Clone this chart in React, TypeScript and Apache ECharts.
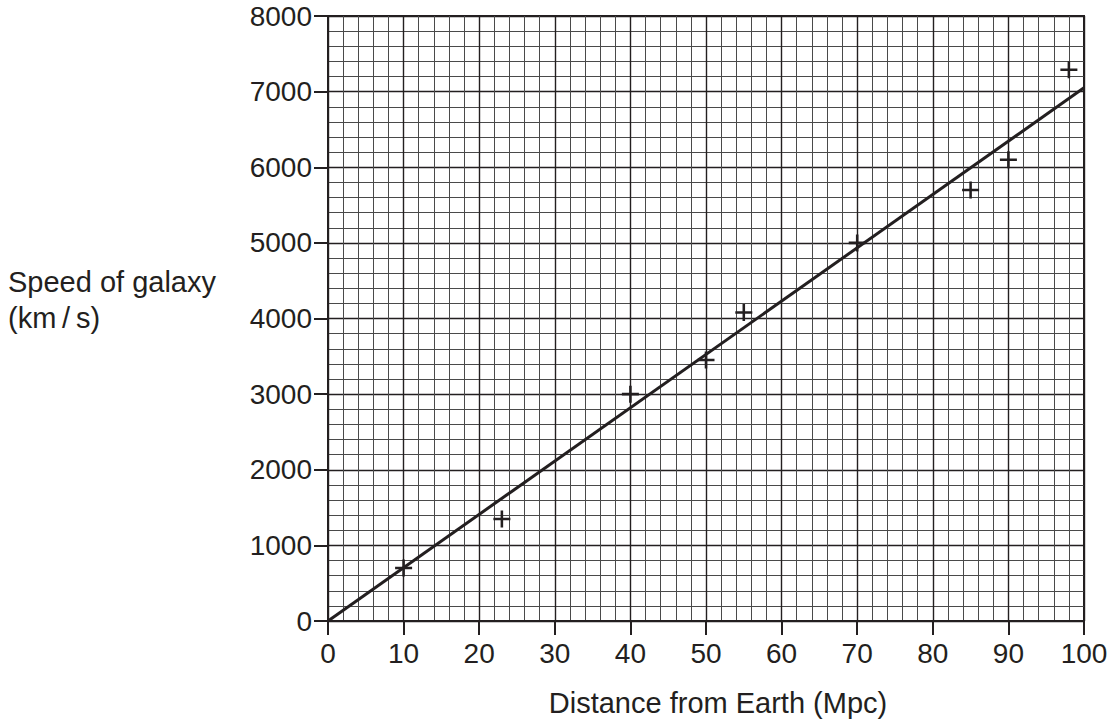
import React, { useEffect, useRef } from "react";
import * as echarts from "echarts";

const distances = [10, 23, 40, 50, 55, 70, 85, 90, 98];
const speeds = [700, 1350, 3000, 3450, 4080, 5000, 5700, 6100, 7290];
const fitLineX = [0, 100];
const fitLineY = [0, 7050];
const xTitle = "Distance from Earth (Mpc)";
const yTitleLines = ["Speed of galaxy", "(km\u2009/\u2009s)"];

const FONT = "'Liberation Sans', Arial, Helvetica, sans-serif";
const INK = "#231f20";
const FS = 28;
const TFS = 29;

export default function App() {
  const ref = useRef<HTMLDivElement>(null);
  useEffect(() => {
    if (!ref.current) return;
    const chart = echarts.init(ref.current, undefined, { renderer: "svg" });
    const plus = "path://M0,6.8h16v2.4h-16z M6.8,0h2.4v16h-2.4z";
    chart.setOption({
      animation: false,
      backgroundColor: "#ffffff",
      textStyle: { fontFamily: FONT },
      grid: {
        left: 328,
        top: 16,
        right: 34,
        bottom: 101,
        show: true,
        borderColor: INK,
        borderWidth: 2,
        backgroundColor: "transparent",
      },
      xAxis: {
        type: "value",
        min: 0,
        max: 100,
        interval: 10,
        axisLine: { show: true, onZero: false, lineStyle: { color: INK, width: 2 } },
        axisTick: { show: true, length: 14, lineStyle: { color: INK, width: 2 } },
        axisLabel: { color: INK, fontSize: FS, fontFamily: FONT, margin: 18 },
        splitLine: { show: true, lineStyle: { color: INK, width: 1.4 } },
        minorTick: { show: false, splitNumber: 5 },
        minorSplitLine: { show: true, lineStyle: { color: "#4a4a4a", width: 1 } },
      },
      yAxis: {
        type: "value",
        min: 0,
        max: 8000,
        interval: 1000,
        axisLine: { show: true, onZero: false, lineStyle: { color: INK, width: 2 } },
        axisTick: { show: true, length: 14, lineStyle: { color: INK, width: 2 } },
        axisLabel: {
          color: INK,
          fontSize: FS,
          fontFamily: FONT,
          margin: 16,
          formatter: (v: number) => String(v),
        },
        splitLine: { show: true, lineStyle: { color: INK, width: 1.4 } },
        minorTick: { show: false, splitNumber: 5 },
        minorSplitLine: { show: true, lineStyle: { color: "#4a4a4a", width: 1 } },
      },
      graphic: [
        {
          type: "text",
          x: 8,
          y: 267,
          style: { text: yTitleLines[0], fill: INK, font: `${TFS}px ${FONT}` },
        },
        {
          type: "text",
          x: 8,
          y: 303,
          style: { text: yTitleLines[1], fill: INK, font: `${TFS}px ${FONT}` },
        },
        {
          type: "text",
          x: 718,
          y: 688,
          style: { text: xTitle, fill: INK, font: `${TFS}px ${FONT}`, textAlign: "center" },
        },
      ],
      series: [
        {
          type: "line",
          data: fitLineX.map((x, i) => [x, fitLineY[i]]),
          symbol: "none",
          lineStyle: { color: INK, width: 3 },
          z: 3,
        },
        {
          type: "scatter",
          data: distances.map((d, i) => [d, speeds[i]]),
          symbol: plus,
          symbolSize: 17,
          itemStyle: { color: INK, opacity: 1 },
          z: 4,
        },
      ],
    });
    return () => chart.dispose();
  }, []);
  return <div ref={ref} style={{ width: 1118, height: 722, position: "absolute", left: 0, top: 0 }} />;
}
